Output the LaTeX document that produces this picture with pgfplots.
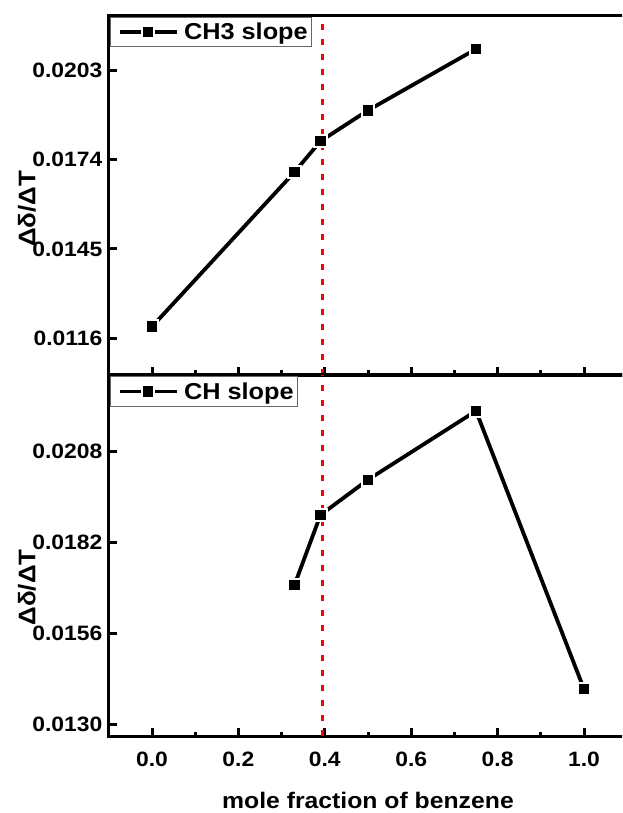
\documentclass[border=0pt]{standalone}
\usepackage{pgfplots}
\pgfplotsset{compat=1.18}
\usepackage{fontspec}
\setmainfont{Liberation Sans}[FakeStretch=1.1]
\newfontfamily\ylabfont{Liberation Sans}[FakeStretch=1.08]

\pgfplotstableread{
x y
0.00 0.01198
0.33 0.01700
0.39 0.01800
0.50 0.01900
0.75 0.02099
}\topdata
\pgfplotstableread{
x y
0.33 0.01699
0.39 0.01899
0.50 0.02000
0.75 0.02197
1.00 0.01400
}\botdata

\pgfplotsset{
  panel/.style={
    scale only axis, width=518.4pt,
    xmin=-0.1, xmax=1.1,
    axis line style={line width=3.3pt, black},
    tick style={line width=3pt, black},
    major tick length=8pt, minor tick length=4.5pt,
    tick align=inside,
    xtick pos=bottom, ytick pos=left,
    xtick={0,0.2,0.4,0.6,0.8,1.0},
    minor x tick num=1,
    scaled y ticks=false, scaled x ticks=false,
    tick label style={font=\bfseries\fontsize{20.8}{20.8}\selectfont},
    yticklabel style={anchor=east, xshift=-3pt},
    xticklabel style={anchor=base, yshift=-30.4pt},
    every axis y label/.style={at={(axis description cs:0,#1)}, xshift=-82pt, rotate=90, anchor=center},
    ylabel={\ylabfont\bfseries\fontsize{24}{24}\selectfont Δδ/ΔT},
    legend style={at={(0,1)}, anchor=north west, xshift=1.5pt, yshift=-1.5pt,
      draw=black!60, line width=0.9pt, fill=white,
      font=\bfseries\fontsize{23}{23}\selectfont,
      inner xsep=1.5pt, inner ysep=3.5pt,
      nodes={inner sep=2pt}},
    legend cell align=left,
    legend image code/.code={
      \path (0pt,0pt) (66pt,0pt);
      \draw[##1, mark repeat=2, mark phase=2] plot coordinates {(5.6pt,0pt) (34.1pt,0pt) (62.6pt,0pt)};
    },
  },
  dataline/.style={black, line width=3.8pt, mark=square*, mark size=6.2pt,
    mark options={fill=black, draw=white, line width=2pt, solid}},
  redline/.style={red, line width=3.3pt, dash pattern=on 6pt off 9pt, forget plot},
}

\begin{document}
\begin{tikzpicture}
\path[use as bounding box] (0pt,0pt) rectangle (622pt,813pt);
\clip (0pt,0pt) rectangle (622pt,813pt);

\begin{axis}[panel=0.4615, at={(108.8pt,438pt)}, anchor=south west, height=359.7pt,
  ymin=0.01041, ymax=0.022086,
  ytick={0.0116,0.0145,0.0174,0.0203},
  yticklabels={0.0116,0.0145,0.0174,0.0203},
  xticklabels={}]
\addplot[dataline] table[x=x, y=y] {\topdata};
\addlegendentry{CH3 slope}
\addplot[redline] coordinates {(0.394,0.01041) (0.394,0.022086)};
\end{axis}

\begin{axis}[panel=0.412, at={(108.8pt,76.7pt)}, anchor=south west, height=361.3pt,
  ymin=0.01265, ymax=0.0230,
  ytick={0.0130,0.0156,0.0182,0.0208},
  yticklabels={0.0130,0.0156,0.0182,0.0208},
  xticklabels={0.0,0.2,0.4,0.6,0.8,1.0},
  xlabel={mole fraction of benzene},
  every axis x label/.style={at={(axis description cs:0.5,0)}, yshift=-71.7pt, anchor=base, font=\bfseries\fontsize{22.5}{22.5}\selectfont}]
\addplot[dataline] table[x=x, y=y] {\botdata};
\addlegendentry{CH slope}
\addplot[redline] coordinates {(0.394,0.01265) (0.394,0.0230)};
\end{axis}
\end{tikzpicture}
\end{document}
